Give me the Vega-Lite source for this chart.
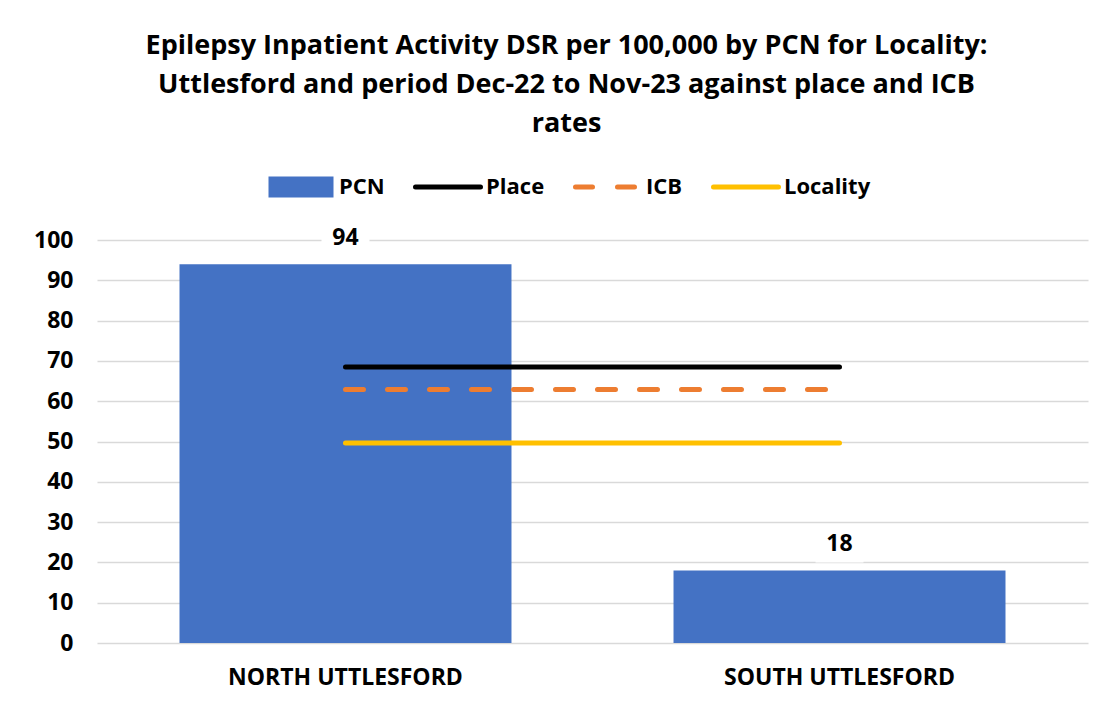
{
  "$schema": "https://vega.github.io/schema/vega-lite/v6.json",
  "width": 991,
  "height": 403,
  "autosize": {"type": "none"},
  "padding": {"left": 97, "top": 240, "right": 27, "bottom": 65},
  "background": "white",
  "title": {
    "text": ["Epilepsy Inpatient Activity DSR per 100,000 by PCN for Locality:", "Uttlesford and period Dec-22 to Nov-23 against place and ICB", "rates"],
    "font": "Open Sans",
    "fontSize": 27,
    "fontWeight": "bold",
    "color": "#000000",
    "lineHeight": 39,
    "anchor": "middle",
    "frame": "group",
    "dx": -26,
    "offset": 38
  },
  "data": {
    "values": [
      {"pcn": "NORTH UTTLESFORD", "series": "PCN", "value": 94},
      {"pcn": "SOUTH UTTLESFORD", "series": "PCN", "value": 18},
      {"pcn": "NORTH UTTLESFORD", "series": "Place", "value": 68.5},
      {"pcn": "SOUTH UTTLESFORD", "series": "Place", "value": 68.5},
      {"pcn": "NORTH UTTLESFORD", "series": "ICB", "value": 62.9},
      {"pcn": "SOUTH UTTLESFORD", "series": "ICB", "value": 62.9},
      {"pcn": "NORTH UTTLESFORD", "series": "Locality", "value": 49.6},
      {"pcn": "SOUTH UTTLESFORD", "series": "Locality", "value": 49.6}
    ]
  },
  "encoding": {
    "x": {
      "field": "pcn",
      "type": "nominal",
      "sort": null,
      "scale": {"paddingInner": 0.328, "paddingOuter": 0.167},
      "axis": {
        "title": null,
        "labelAngle": 0,
        "labelLimit": 0,
        "domain": false,
        "ticks": false,
        "labelPadding": 23,
        "labelFont": "Open Sans",
        "labelFontSize": 23,
        "labelFontWeight": "bold",
        "labelColor": "#000000"
      }
    },
    "y": {
      "field": "value",
      "type": "quantitative",
      "scale": {"domain": [0, 100], "nice": false},
      "axis": {
        "title": null,
        "values": [0, 10, 20, 30, 40, 50, 60, 70, 80, 90, 100],
        "domain": false,
        "ticks": false,
        "grid": true,
        "gridColor": "#d9d9d9",
        "gridWidth": 1.5,
        "labelPadding": 24,
        "labelFont": "Open Sans",
        "labelFontSize": 23,
        "labelFontWeight": "bold",
        "labelColor": "#000000"
      }
    }
  },
  "layer": [
    {
      "transform": [{"filter": "datum.series === 'PCN'"}],
      "mark": {"type": "bar"},
      "encoding": {
        "color": {
          "field": "series",
          "type": "nominal",
          "scale": {"domain": ["PCN", "Place", "ICB", "Locality"], "range": ["#4472C4", "#000000", "#ED7D31", "#FFC000"]},
          "legend": {
            "title": null,
            "orient": "none",
            "direction": "horizontal",
            "legendX": 193,
            "legendY": -64,
            "symbolType": "stroke",
            "symbolSize": 4225,
            "labelOffset": 27,
            "columnPadding": 20,
            "labelFont": "Open Sans",
            "labelFontSize": 22,
            "labelFontWeight": "bold",
            "labelColor": "#000000",
            "encode": {
              "symbols": {
                "update": {
                  "shape": {"signal": "datum.value === 'PCN' ? 'M-1,-0.32H1V0.32H-1Z' : 'stroke'"},
                  "fill": {"signal": "datum.value === 'PCN' ? '#4472C4' : 'transparent'"},
                  "stroke": {"signal": "datum.value === 'PCN' ? '#4472C4' : datum.value === 'Place' ? '#000000' : datum.value === 'ICB' ? '#ED7D31' : '#FFC000'"},
                  "strokeDash": {"signal": "datum.value === 'ICB' ? [17, 25] : [1, 0]"},
                  "strokeWidth": {"signal": "datum.value === 'PCN' ? 0 : 5"},
                  "strokeCap": {"value": "round"},
                  "opacity": {"value": 1}
                }
              }
            }
          }
        }
      }
    },
    {
      "transform": [{"filter": "datum.series !== 'PCN'"}],
      "mark": {"type": "line", "strokeWidth": 5, "strokeCap": "round"},
      "encoding": {
        "color": {"field": "series", "type": "nominal"},
        "strokeDash": {
          "field": "series",
          "type": "nominal",
          "scale": {"domain": ["Place", "ICB", "Locality"], "range": [[1, 0], [18, 24], [1, 0]]},
          "legend": null
        }
      }
    },
    {
      "transform": [{"filter": "datum.series === 'PCN'"}],
      "mark": {"type": "point", "shape": "M-1,-0.75H1V0.75H-1Z", "filled": true, "color": "white", "opacity": 1, "size": 2304, "yOffset": -26},
      "encoding": {}
    },
    {
      "transform": [{"filter": "datum.series === 'PCN'"}],
      "mark": {"type": "text", "font": "Open Sans", "fontSize": 23, "fontWeight": "bold", "color": "#000000", "baseline": "middle", "dy": -26},
      "encoding": {"text": {"field": "value", "type": "quantitative"}}
    }
  ],
  "config": {
    "view": {"stroke": null}
  }
}
